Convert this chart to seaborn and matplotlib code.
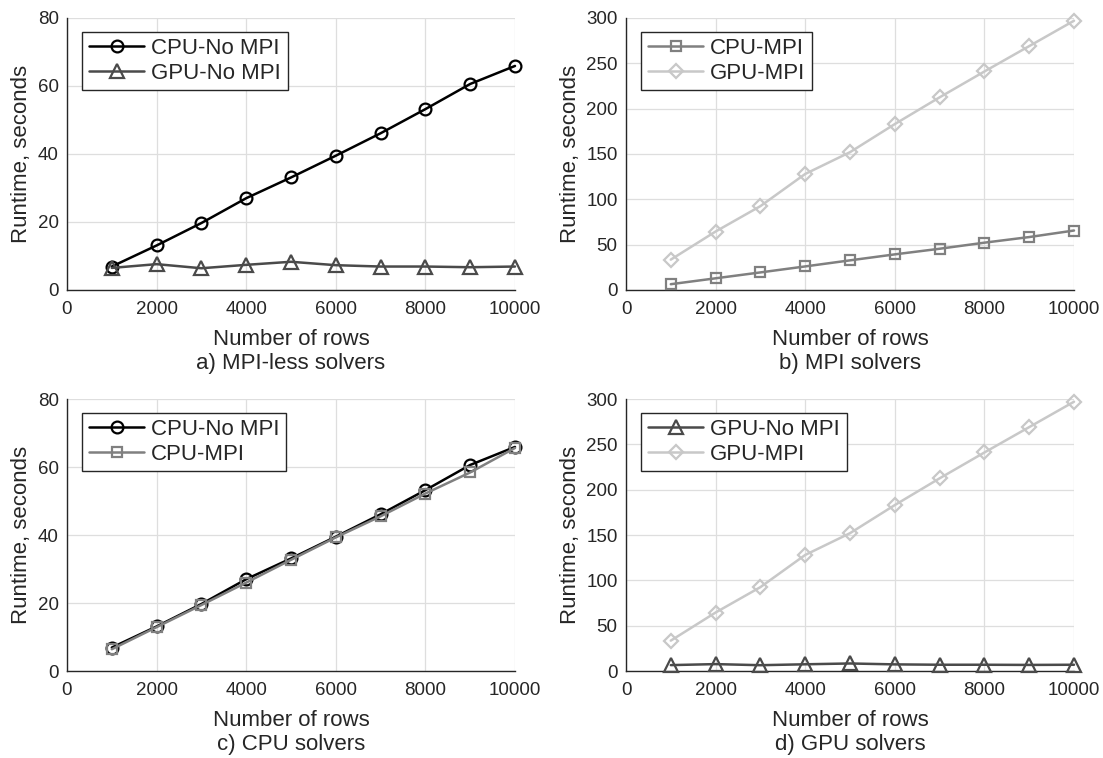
import matplotlib
matplotlib.use("Agg")
import matplotlib.pyplot as plt
import seaborn as sns
import pandas as pd

# Problem sizes (number of rows)
rows = [1000, 2000, 3000, 4000, 5000, 6000, 7000, 8000, 9000, 10000]

# Measured runtimes in seconds
cpu_no_mpi = [6.9, 13.1, 19.7, 27.0, 33.1, 39.5, 46.1, 53.2, 60.6, 65.9]
gpu_no_mpi = [6.5, 7.6, 6.4, 7.4, 8.3, 7.3, 6.9, 6.9, 6.7, 6.9]
cpu_mpi = [6.4, 12.9, 19.4, 26.0, 32.7, 39.3, 45.5, 52.2, 58.4, 65.6]
gpu_mpi = [33.5, 64.5, 92.5, 128.0, 152.0, 183.0, 212.5, 241.0, 269.0, 297.0]

panel_captions = ["a) MPI-less solvers", "b) MPI solvers", "c) CPU solvers", "d) GPU solvers"]

sns.set_theme(style="whitegrid")
plt.rcParams["font.family"] = ["Liberation Sans", "DejaVu Sans"]

TEXT = "#262626"
styles = {
    "CPU-No MPI": dict(values=cpu_no_mpi, color="#000000", marker="o"),
    "GPU-No MPI": dict(values=gpu_no_mpi, color="#4a4a4a", marker="^"),
    "CPU-MPI": dict(values=cpu_mpi, color="#808080", marker="s"),
    "GPU-MPI": dict(values=gpu_mpi, color="#c8c8c8", marker="D"),
}
marker_sizes = {"o": 8.5, "^": 9.5, "s": 7.5, "D": 7.5}

panels = [
    (["CPU-No MPI", "GPU-No MPI"], 80, 20),
    (["CPU-MPI", "GPU-MPI"], 300, 50),
    (["CPU-No MPI", "CPU-MPI"], 80, 20),
    (["GPU-No MPI", "GPU-MPI"], 300, 50),
]

W, H = 1103, 758
fig = plt.figure(figsize=(W / 100, H / 100), dpi=100)
fig.patch.set_facecolor("white")

# axes boxes in pixels: left, top, right, bottom
boxes = [(67, 18, 515, 290), (626, 18, 1074, 290),
         (67, 399, 515, 671), (626, 399, 1074, 671)]

for (names, ymax, ystep), caption, (l, t, r, b) in zip(panels, panel_captions, boxes):
    ax = fig.add_axes([l / W, (H - b) / H, (r - l) / W, (b - t) / H])
    ax.set_facecolor("white")
    for name in names:
        st = styles[name]
        df = pd.DataFrame({"rows": rows, "runtime": st["values"]})
        sns.lineplot(data=df, x="rows", y="runtime", ax=ax, color=st["color"],
                     marker=st["marker"], markersize=marker_sizes[st["marker"]],
                     markerfacecolor="none", markeredgecolor=st["color"],
                     markeredgewidth=1.6, linewidth=1.8, label=name,
                     clip_on=False, zorder=3)
    ax.set_xlim(0, 10000)
    ax.set_ylim(0, ymax)
    ax.set_xticks(range(0, 10001, 2000))
    ax.set_yticks(range(0, ymax + 1, ystep))
    ax.grid(True, color="#dedede", linewidth=0.9)
    for side in ("top", "right"):
        ax.spines[side].set_visible(False)
    for side in ("left", "bottom"):
        ax.spines[side].set_visible(True)
        ax.spines[side].set_color(TEXT)
        ax.spines[side].set_linewidth(1.0)
    ax.tick_params(axis="both", direction="in", length=4, width=0.8,
                   color=TEXT, labelcolor=TEXT, labelsize=13.5)
    ax.tick_params(axis="x", pad=8)
    ax.tick_params(axis="y", pad=6)
    ax.set_xlabel("Number of rows\n" + caption, fontsize=16, color=TEXT,
                  labelpad=8, linespacing=1.2)
    ax.set_ylabel("Runtime, seconds", fontsize=16, color=TEXT, labelpad=4)
    leg = ax.legend(loc="upper left", bbox_to_anchor=(0.034, 0.95),
                    borderaxespad=0, fontsize=16, frameon=True, fancybox=False,
                    edgecolor=TEXT, framealpha=1, handlelength=2.5,
                    handletextpad=0.3, labelspacing=0.15, borderpad=0.3,
                    numpoints=1)
    leg.get_frame().set_linewidth(1.0)
    for txt in leg.get_texts():
        txt.set_color(TEXT)

fig.savefig("out.png", dpi=100, facecolor="white")
